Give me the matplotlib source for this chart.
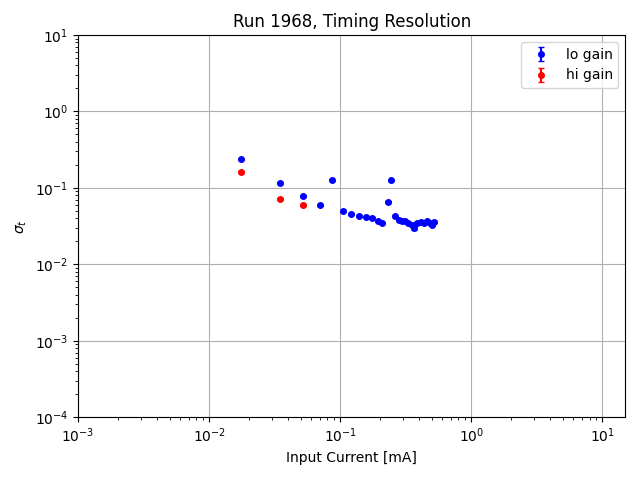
import numpy as np
import matplotlib
matplotlib.use("Agg")
import matplotlib.pyplot as plt

# lo gain points
lo_current = [0.0175, 0.0348, 0.0522, 0.0703, 0.0869, 0.106, 0.122, 0.140, 0.158, 0.175,
              0.194, 0.210, 0.230, 0.246, 0.264, 0.279, 0.295, 0.313, 0.332, 0.352,
              0.369, 0.389, 0.412, 0.437, 0.458, 0.486, 0.500, 0.522]
lo_sigma = [0.238, 0.1156, 0.078, 0.0596, 0.1265, 0.0497, 0.0458, 0.0428, 0.042, 0.0407,
            0.0367, 0.0343, 0.0658, 0.125, 0.0431, 0.0379, 0.0372, 0.0372, 0.0349, 0.0326,
            0.0295, 0.0343, 0.0359, 0.0349, 0.0372, 0.035, 0.0326, 0.036]
lo_err = [0.004, 0.003, 0.002, 0.0015, 0.003, 0.001, 0.001, 0.001, 0.001, 0.001,
          0.001, 0.001, 0.0015, 0.003, 0.001, 0.001, 0.001, 0.001, 0.001, 0.001,
          0.001, 0.001, 0.001, 0.001, 0.001, 0.001, 0.001, 0.001]

# hi gain points
hi_current = [0.0175, 0.0348, 0.0522]
hi_sigma = [0.161, 0.0713, 0.0596]
hi_err = [0.003, 0.0015, 0.0012]

fig, ax = plt.subplots(figsize=(6.4, 4.8), dpi=100)
ax.errorbar(lo_current, lo_sigma, yerr=lo_err, fmt='o', color='blue', markersize=4,
            capsize=2, label='lo gain')
ax.errorbar(hi_current, hi_sigma, yerr=hi_err, fmt='o', color='red', markersize=4,
            capsize=2, label='hi gain')
ax.set_xscale('log')
ax.set_yscale('log')
ax.set_xlim(1e-3, 15)
ax.set_ylim(1e-4, 10)
ax.grid(True)
ax.set_xlabel('Input Current [mA]')
ax.set_ylabel(r'$\sigma_t$')
ax.set_title('Run 1968, Timing Resolution')
ax.legend(loc='upper right')
fig.subplots_adjust(left=0.122, right=0.977, top=0.927, bottom=0.131)
fig.savefig('out.png')
